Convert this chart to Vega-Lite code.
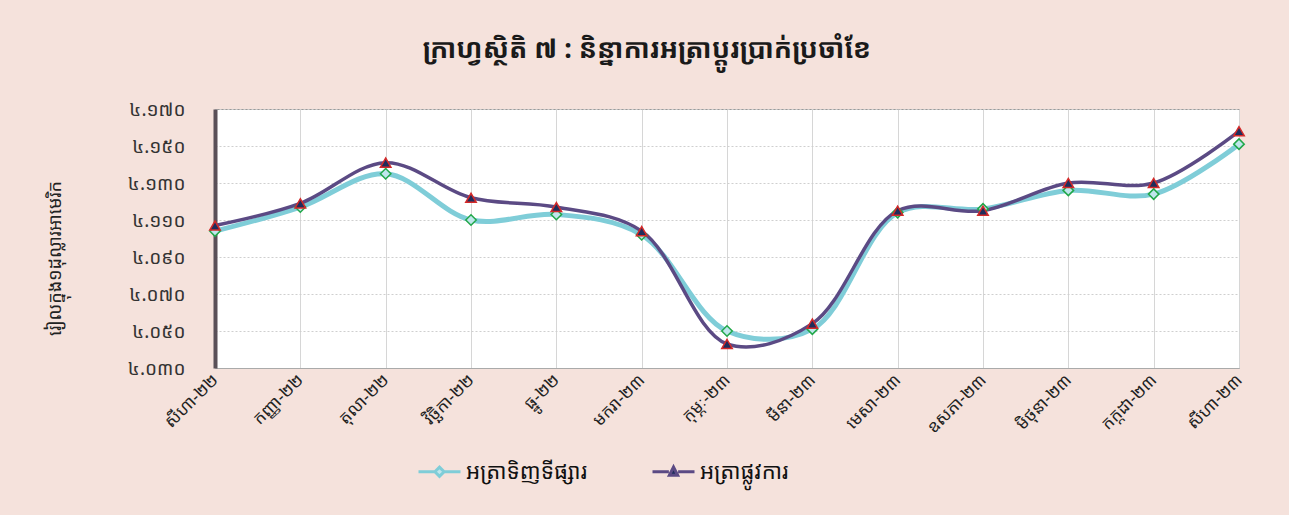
{
  "$schema": "https://vega.github.io/schema/vega-lite/v6.json",
  "width": 1024,
  "height": 259,
  "autosize": {"type": "none"},
  "padding": {"left": 215, "top": 109, "right": 50, "bottom": 147},
  "background": "#f5e2dc",
  "view": {"fill": "white", "stroke": "#9a9a9a", "strokeWidth": 1},
  "title": {
    "text": "ក្រាហ្វស្ថិតិ ៧ : និន្នាការអត្រាប្តូរប្រាក់ប្រចាំខែ",
    "anchor": "middle",
    "dx": -80,
    "offset": 36,
    "fontSize": 27,
    "fontWeight": "bold",
    "color": "#1a1a1a",
    "font": "Noto Sans Khmer, Khmer OS, DejaVu Sans, sans-serif"
  },
  "data": {
    "values": [
      {"month": "សីហា-២២", "series": "អត្រាទិញទីផ្សារ", "value": 4.104},
      {"month": "កញ្ញា-២២", "series": "អត្រាទិញទីផ្សារ", "value": 4.117},
      {"month": "តុលា-២២", "series": "អត្រាទិញទីផ្សារ", "value": 4.135},
      {"month": "វិច្ឆិកា-២២", "series": "អត្រាទិញទីផ្សារ", "value": 4.110},
      {"month": "ធ្នូ-២២", "series": "អត្រាទិញទីផ្សារ", "value": 4.113},
      {"month": "មករា-២៣", "series": "អត្រាទិញទីផ្សារ", "value": 4.102},
      {"month": "កុម្ភៈ-២៣", "series": "អត្រាទិញទីផ្សារ", "value": 4.050},
      {"month": "មីនា-២៣", "series": "អត្រាទិញទីផ្សារ", "value": 4.051},
      {"month": "មេសា-២៣", "series": "អត្រាទិញទីផ្សារ", "value": 4.114},
      {"month": "ឧសភា-២៣", "series": "អត្រាទិញទីផ្សារ", "value": 4.116},
      {"month": "មិថុនា-២៣", "series": "អត្រាទិញទីផ្សារ", "value": 4.126},
      {"month": "កក្កដា-២៣", "series": "អត្រាទិញទីផ្សារ", "value": 4.124},
      {"month": "សីហា-២៣", "series": "អត្រាទិញទីផ្សារ", "value": 4.151},
      {"month": "សីហា-២២", "series": "អត្រាផ្លូវការ", "value": 4.107},
      {"month": "កញ្ញា-២២", "series": "អត្រាផ្លូវការ", "value": 4.119},
      {"month": "តុលា-២២", "series": "អត្រាផ្លូវការ", "value": 4.141},
      {"month": "វិច្ឆិកា-២២", "series": "អត្រាផ្លូវការ", "value": 4.122},
      {"month": "ធ្នូ-២២", "series": "អត្រាផ្លូវការ", "value": 4.117},
      {"month": "មករា-២៣", "series": "អត្រាផ្លូវការ", "value": 4.104},
      {"month": "កុម្ភៈ-២៣", "series": "អត្រាផ្លូវការ", "value": 4.043},
      {"month": "មីនា-២៣", "series": "អត្រាផ្លូវការ", "value": 4.054},
      {"month": "មេសា-២៣", "series": "អត្រាផ្លូវការ", "value": 4.115},
      {"month": "ឧសភា-២៣", "series": "អត្រាផ្លូវការ", "value": 4.115},
      {"month": "មិថុនា-២៣", "series": "អត្រាផ្លូវការ", "value": 4.130},
      {"month": "កក្កដា-២៣", "series": "អត្រាផ្លូវការ", "value": 4.130},
      {"month": "សីហា-២៣", "series": "អត្រាផ្លូវការ", "value": 4.158}
    ]
  },
  "encoding": {
    "x": {
      "field": "month",
      "type": "ordinal",
      "sort": ["សីហា-២២", "កញ្ញា-២២", "តុលា-២២", "វិច្ឆិកា-២២", "ធ្នូ-២២", "មករា-២៣", "កុម្ភៈ-២៣", "មីនា-២៣", "មេសា-២៣", "ឧសភា-២៣", "មិថុនា-២៣", "កក្កដា-២៣", "សីហា-២៣"],
      "scale": {"type": "point", "padding": 0},
      "axis": {
        "title": null,
        "labelAngle": -45,
        "labelAlign": "right",
        "labelBaseline": "middle",
        "labelPadding": 9,
        "labelFontSize": 17,
        "labelColor": "#222",
        "labelFont": "Noto Sans Khmer, Khmer OS, DejaVu Sans, sans-serif",
        "ticks": false,
        "grid": true,
        "gridColor": "#d6d6d6",
        "gridWidth": 1,
        "domainColor": "#aaaaaa"
      }
    },
    "y": {
      "field": "value",
      "type": "quantitative",
      "scale": {"domain": [4.03, 4.17], "nice": false, "zero": false},
      "axis": {
        "title": "រៀលក្នុង១ដុល្លារអាមេរិក",
        "titleFont": "Noto Sans Khmer, Khmer OS, DejaVu Sans, sans-serif",
        "titleFontSize": 18,
        "titleFontWeight": "normal",
        "titleColor": "#222",
        "titleX": -160,
        "titleY": 149,
        "titleAngle": -90,
        "titleAlign": "center",
        "titleBaseline": "middle",
        "values": [4.03, 4.05, 4.07, 4.09, 4.11, 4.13, 4.15, 4.17],
        "labelExpr": "replace(replace(replace(replace(replace(replace(replace(replace(replace(replace(format(datum.value,'.3f'),regexp('0','g'),'០'),regexp('1','g'),'១'),regexp('2','g'),'២'),regexp('3','g'),'៣'),regexp('4','g'),'៤'),regexp('5','g'),'៥'),regexp('6','g'),'៦'),regexp('7','g'),'៧'),regexp('8','g'),'៨'),regexp('9','g'),'៩')",
        "labelFont": "Noto Sans Khmer, Khmer OS, DejaVu Sans, sans-serif",
        "labelFontSize": 19,
        "labelColor": "#333",
        "labelPadding": 30,
        "ticks": false,
        "grid": true,
        "gridColor": "#cfcfcf",
        "gridDash": [2, 2],
        "domainColor": "#5a5058",
        "domainWidth": 4
      }
    }
  },
  "layer": [
    {
      "mark": {"type": "line", "interpolate": "catmull-rom"},
      "encoding": {
        "color": {
          "field": "series",
          "type": "nominal",
          "scale": {"domain": ["អត្រាទិញទីផ្សារ", "អត្រាផ្លូវការ"], "range": ["#7fcdd8", "#5b4a84"]},
          "legend": {
            "title": null,
            "orient": "none",
            "legendX": 202,
            "legendY": 340,
            "direction": "horizontal",
            "columnPadding": 58,
            "labelFont": "Noto Sans Khmer, Khmer OS, DejaVu Sans, sans-serif",
            "labelFontSize": 22,
            "labelColor": "#111",
            "labelOffset": 4,
            "symbolSize": 1764,
            "symbolStrokeWidth": 3,
            "encode": {
              "symbols": {
                "update": {
                  "shape": {"signal": "datum.value === 'អត្រាទិញទីផ្សារ' ? 'M-1,0H-0.22M0.22,0H1M-0.22,0L0,-0.22L0.22,0L0,0.22Z' : 'M-1,0H-0.22M0.22,0H1M-0.2,0.17L0,-0.22L0.2,0.17Z'"},
                  "fill": {"signal": "datum.value === 'អត្រាទិញទីផ្សារ' ? '#bfe6ec' : '#1f2d5c'"}
                }
              }
            }
          }
        },
        "strokeWidth": {
          "field": "series",
          "type": "nominal",
          "scale": {"domain": ["អត្រាទិញទីផ្សារ", "អត្រាផ្លូវការ"], "range": [5, 3.5]},
          "legend": null
        }
      }
    },
    {
      "mark": {"type": "point", "filled": true, "strokeWidth": 1.5, "opacity": 1},
      "encoding": {
        "shape": {
          "field": "series",
          "type": "nominal",
          "scale": {"domain": ["អត្រាទិញទីផ្សារ", "អត្រាផ្លូវការ"], "range": ["diamond", "triangle-up"]},
          "legend": null
        },
        "fill": {
          "field": "series",
          "type": "nominal",
          "scale": {"domain": ["អត្រាទិញទីផ្សារ", "អត្រាផ្លូវការ"], "range": ["#bfe6ec", "#1f2d5c"]},
          "legend": null
        },
        "stroke": {
          "field": "series",
          "type": "nominal",
          "scale": {"domain": ["អត្រាទិញទីផ្សារ", "អត្រាផ្លូវការ"], "range": ["#22a84a", "#d42a2a"]},
          "legend": null
        },
        "size": {"value": 110}
      }
    }
  ],
  "resolve": {"scale": {"color": "independent", "fill": "independent", "stroke": "independent"}}
}
